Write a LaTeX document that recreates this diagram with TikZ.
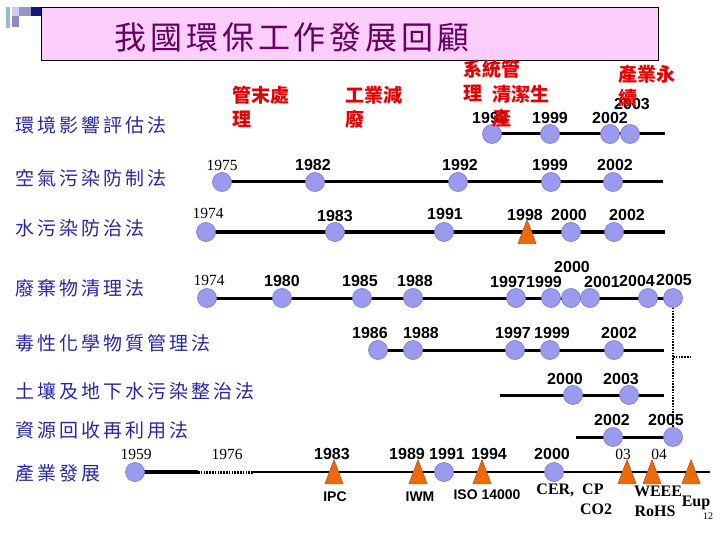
\documentclass[tikz,border=0pt]{standalone}
\usepackage{fontspec}
\setmainfont{Liberation Serif}
\newfontfamily\sans{Liberation Sans}
\newfontfamily\cjk{Noto Sans CJK TC}
\usetikzlibrary{shapes.geometric}
\definecolor{dotfill}{RGB}{154,154,238}
\definecolor{dotedge}{RGB}{118,118,208}
\definecolor{trifill}{RGB}{238,104,12}
\definecolor{triedge}{RGB}{196,82,10}
\definecolor{lawblue}{RGB}{38,38,168}
\definecolor{titlepur}{RGB}{102,0,102}
\definecolor{titlebg}{RGB}{252,206,252}
\definecolor{hintred}{RGB}{232,0,0}
\definecolor{iconA}{RGB}{150,186,216}
\definecolor{iconB}{RGB}{206,206,236}
\definecolor{iconC}{RGB}{150,150,206}
\definecolor{iconD}{RGB}{22,22,120}
\definecolor{iconE}{RGB}{140,140,204}

\begin{document}
\begin{tikzpicture}[x=1pt, y=-1pt,
    dot/.style={circle, fill=dotfill, draw=dotedge, line width=0.6pt, minimum size=19pt, inner sep=0pt},
    tri/.style={isosceles triangle, isosceles triangle stretches, shape border rotate=90,
        minimum width=18pt, minimum height=24pt, inner sep=0pt, anchor=south,
        fill=trifill, draw=triedge, line width=0.6pt},
    yr/.style={font=\sans\bfseries\fontsize{16}{16}\selectfont, inner sep=0pt},
    yrs/.style={font=\fontsize{15.5}{15.5}\selectfont, inner sep=0pt},
    tag/.style={font=\sans\bfseries\fontsize{14}{14}\selectfont, inner sep=0pt},
    tags/.style={font=\bfseries\fontsize{16}{16}\selectfont, inner sep=0pt},
    law/.style={anchor=west, inner sep=0pt, text=lawblue,
        font=\cjk\fontsize{19}{19}\selectfont\addfontfeature{LetterSpace=16}},
    hint/.style={anchor=north west, inner sep=0pt, align=left, text=hintred,
        font=\cjk\bfseries\fontsize{19}{24}\selectfont},
    tl/.style={line width=3pt},
    dotv/.style={line width=2.5pt, dash pattern=on 1.6pt off 1.2pt}]
    \useasboundingbox (0,0) rectangle (720,540);
    % 標題
    \fill[iconA] (6,7) rectangle (10,28);
    \fill[iconB] (12,7) rectangle (19,16);
    \fill[iconC] (19,7) rectangle (31,16);
    \fill[iconD] (31,7) rectangle (41,16);
    \fill[iconE] (12,16) rectangle (19,27);
    \draw[fill=titlebg, line width=0.8pt] (41,7) rectangle (658,60);
    \node[text=titlepur, font=\cjk\fontsize{32}{32}\selectfont\addfontfeature{LetterSpace=12}] (title) at (292,37) {我國環保工作發展回顧};
    % 法規名稱
    \node[law] (eiaL) at (15,125) {環境影響評估法};
    \node[law] (airL) at (15,178) {空氣污染防制法};
    \node[law] (watL) at (15,228) {水污染防治法};
    \node[law] (wasL) at (15,288) {廢棄物清理法};
    \node[law] (toxL) at (15,343) {毒性化學物質管理法};
    \node[law] (soilL) at (15,391) {土壤及地下水污染整治法};
    \node[law] (recL) at (15,430) {資源回收再利用法};
    \node[law] (indL) at (15,473) {產業發展};
    % 環境影響評估法
    \def\y{134}
    \coordinate (eiaS) at (492,\y); \coordinate (eiaE) at (665,\y);
    \draw[tl] (eiaS) -- (eiaE);
    \node[dot] (eia98) at (492,\y) {}; \node[yr] at (490,118) {1998};
    \node[dot] (eia99) at (550,\y) {}; \node[yr] at (550,118) {1999};
    \node[dot] (eia02) at (610,\y) {}; \node[yr] at (610,118) {2002};
    \node[dot] (eia03) at (630,\y) {}; \node[yr] at (632,104) {2003};
    % 空氣污染防制法
    \def\y{182}
    \coordinate (airS) at (222,\y); \coordinate (airE) at (663,\y);
    \draw[tl] (airS) -- (airE);
    \node[dot] (air75) at (222,\y) {}; \node[yrs] at (222,165) {1975};
    \node[dot] (air82) at (315,\y) {}; \node[yr] at (313,165) {1982};
    \node[dot] (air92) at (458,\y) {}; \node[yr] at (460,165) {1992};
    \node[dot] (air99) at (551,\y) {}; \node[yr] at (550,165) {1999};
    \node[dot] (air02) at (613,\y) {}; \node[yr] at (615,165) {2002};
    % 水污染防治法
    \def\y{232}
    \coordinate (watS) at (206,\y); \coordinate (watE) at (665,\y);
    \draw[tl] (watS) -- (watE);
    \node[dot] (wat74) at (206,\y) {}; \node[yrs] at (208,213) {1974};
    \node[dot] (wat83) at (335,\y) {}; \node[yr] at (335,216) {1983};
    \node[dot] (wat91) at (444,\y) {}; \node[yr] at (445,214) {1991};
    \node[tri] (wat98) at (527,244) {}; \node[yr] at (525,215) {1998};
    \node[dot] (wat00) at (571,\y) {}; \node[yr] at (569,215) {2000};
    \node[dot] (wat02) at (614,\y) {}; \node[yr] at (627,215) {2002};
    % 廢棄物清理法
    \def\y{298}
    \coordinate (wasS) at (207,\y); \coordinate (wasE) at (673,\y);
    \draw[tl] (wasS) -- (wasE);
    \node[dot] (was74) at (207,\y) {}; \node[yrs] at (209,280) {1974};
    \node[dot] (was80) at (282,\y) {}; \node[yr] at (282,281) {1980};
    \node[dot] (was85) at (362,\y) {}; \node[yr] at (360,281) {1985};
    \node[dot] (was88) at (413,\y) {}; \node[yr] at (415,281) {1988};
    \node[dot] (was97) at (516,\y) {}; \node[yr] at (508,282) {1997};
    \node[dot] (was99) at (551,\y) {}; \node[yr] at (544,282) {1999};
    \node[dot] (was00) at (571,\y) {}; \node[yr] at (572,267) {2000};
    \node[dot] (was01) at (590,\y) {}; \node[yr] at (602,282) {2001};
    \node[dot] (was04) at (648,\y) {}; \node[yr] at (637,281) {2004};
    \node[dot] (was05) at (673,\y) {}; \node[yr] at (674,280) {2005};
    % 毒性化學物質管理法
    \def\y{350}
    \coordinate (toxS) at (378,\y); \coordinate (toxE) at (664,\y);
    \draw[tl] (toxS) -- (toxE);
    \node[dot] (tox86) at (378,\y) {}; \node[yr] at (370,333) {1986};
    \node[dot] (tox88) at (413,\y) {}; \node[yr] at (421,333) {1988};
    \node[dot] (tox97) at (515,\y) {}; \node[yr] at (513,333) {1997};
    \node[dot] (tox99) at (550,\y) {}; \node[yr] at (552,333) {1999};
    \node[dot] (tox02) at (614,\y) {}; \node[yr] at (619,333) {2002};
    % 土壤及地下水污染整治法
    \def\y{395}
    \coordinate (soilS) at (500,\y); \coordinate (soilE) at (664,\y);
    \draw[tl] (soilS) -- (soilE);
    \node[dot] (soil00) at (573,\y) {}; \node[yr] at (565,379) {2000};
    \node[dot] (soil03) at (629,\y) {}; \node[yr] at (621,379) {2003};
    % 資源回收再利用法
    \def\y{437}
    \coordinate (recS) at (576,\y); \coordinate (recE) at (673,\y);
    \draw[tl] (recS) -- (recE);
    \node[dot] (rec02) at (613,\y) {}; \node[yr] at (612,420) {2002};
    \node[dot] (rec05) at (673,\y) {}; \node[yr] at (666,420) {2005};
    % 虛線
    \draw[dotv] (was05) -- (rec05);
    \coordinate (brA) at (673,357); \coordinate (brB) at (691,357);
    \draw[dotv] (brA) -- (brB);
    % 產業發展
    \def\y{472}
    \coordinate (indS) at (135,\y); \coordinate (indA) at (198,\y);
    \coordinate (indB) at (253,\y); \coordinate (indC) at (373,\y);
    \coordinate (indE) at (710,\y);
    \draw[line width=4pt] (indS) -- (indA);
    \draw[dotv, line width=3pt] (indA) -- (indB);
    \draw[line width=1.2pt] (indB) -- (indC);
    \draw[line width=2.5pt] (indC) -- (indE);
    \node[dot] (ind59) at (135,\y) {}; \node[yrs] at (136,454) {1959};
    \node[yrs] (ind76) at (227,454) {1976};
    \node[tri] (ind83) at (334,484) {}; \node[yr] at (332,454) {1983};
    \node[tri] (ind89) at (418,484) {}; \node[yr] at (407,454) {1989};
    \node[dot] (ind91) at (444,\y) {}; \node[yr] at (447,454) {1991};
    \node[tri] (ind94) at (482,484) {}; \node[yr] at (489,454) {1994};
    \node[dot] (ind00) at (554,\y) {}; \node[yr] at (552,454) {2000};
    \node[tri] (ind03) at (627,484) {}; \node[yrs] at (623,454) {03};
    \node[tri] (ind04) at (652,484) {}; \node[yrs] at (659,454) {04};
    \node[tri] (indEu) at (691,484) {};
    \node[tag] (ipc) at (335,497) {IPC};
    \node[tag] (iwm) at (420,497) {IWM};
    \node[tag] (iso) at (487,495) {ISO 14000};
    \node[tags] (cer) at (570,490) {CER,\ \ CP};
    \node[tags] (co2) at (596,509) {CO2};
    \node[tags] (weee) at (658,491) {WEEE};
    \node[tags] (rohs) at (655,511) {RoHS};
    \node[tags] (eup) at (696,503) {Eup};
    \node[font=\fontsize{10}{10}\selectfont, inner sep=0pt] (pg) at (708,516) {12};
    % 紅字
    \node[hint] (endp) at (232,86) {管末處\\理};
    \node[hint] (redu) at (345,86) {工業減\\廢};
    \node[hint] (sysm) at (463,60) {系統管\\理};
    \node[hint] (clean) at (492,85) {清潔生\\產};
    \node[hint] (sust) at (618,65) {產業永\\續};
\end{tikzpicture}
\end{document}
